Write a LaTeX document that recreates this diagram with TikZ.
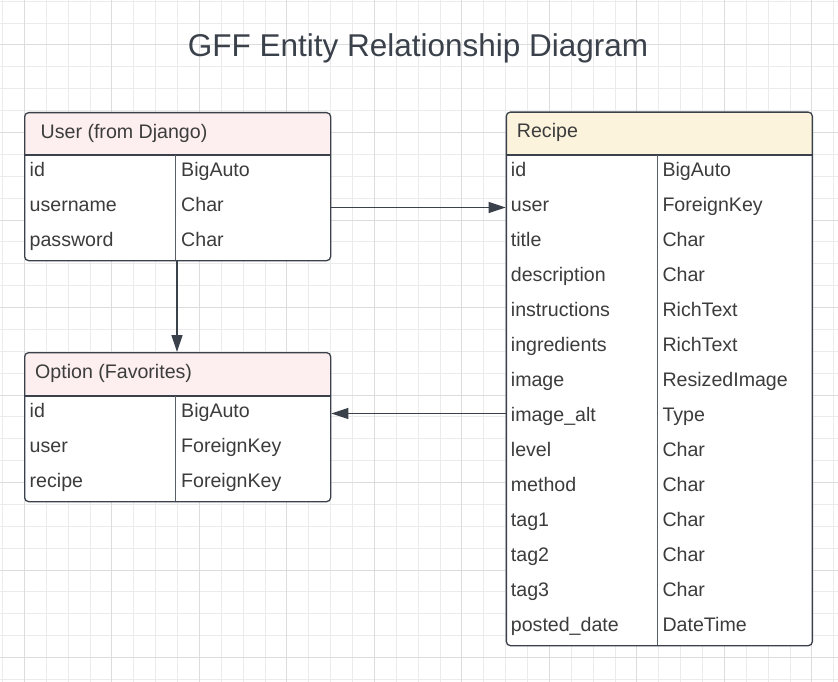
\documentclass[tikz,border=0pt]{standalone}
\usepackage{fontspec}
\setmainfont{Liberation Sans}
\usetikzlibrary{arrows.meta,calc}
\definecolor{ink}{HTML}{3A414A}
\definecolor{txt}{HTML}{3C3C3C}
\definecolor{pinkhdr}{HTML}{FDEFEF}
\definecolor{yelhdr}{HTML}{FCF3DC}
\definecolor{gridminor}{HTML}{EBEBEB}
\definecolor{gridmajor}{HTML}{DCDCDC}
\tikzset{
  tbl/.style={draw=ink, line width=1.3pt, fill=white, rounded corners=4pt,
    inner sep=0pt, anchor=north west},
  hdrfill/.style={path picture={\fill[#1] (path picture bounding box.north west)
      rectangle ([yshift=-43.5pt]path picture bounding box.north east);}},
  sepline/.style={draw=ink, line width=1.2pt},
  divline/.style={draw=ink!85, line width=1pt},
  cell/.style={inner sep=0pt, anchor=base west, text=txt,
    font=\fontsize{19.6}{23}\selectfont},
  titletext/.style={inner sep=0pt, anchor=base, text=ink,
    font=\fontsize{31.5}{36}\selectfont},
  arr/.style={draw=ink, line width=1.3pt, -{Triangle[length=17pt,width=11pt]}},
}
\begin{document}
\begin{tikzpicture}[x=1pt,y=-1pt]
\useasboundingbox (0,0) rectangle (838,682);
\fill[white] (0,0) rectangle (838,682);
% grid
\foreach \k in {0,...,38}{\draw[gridminor, line width=1pt] (2.5+21.875*\k,0) -- (2.5+21.875*\k,682);}
\foreach \k in {0,...,31}{\draw[gridminor, line width=1pt] (0,1.25+21.875*\k) -- (838,1.25+21.875*\k);}
\foreach \k in {1,5,...,37}{\draw[gridmajor, line width=1pt] (2.5+21.875*\k,0) -- (2.5+21.875*\k,682);}
\foreach \k in {2,6,...,30}{\draw[gridmajor, line width=1pt] (0,1.25+21.875*\k) -- (838,1.25+21.875*\k);}

% title
\node[titletext] (title) at (418,57) {GFF Entity Relationship Diagram};

% ---------- User table ----------
\node[tbl, hdrfill=pinkhdr, minimum width=306pt, minimum height=148pt] (user) at (24,112) {};
\draw[sepline] (24,155) -- (330,155);
\draw[divline] (175,155) -- (175,260);
\node[cell] (uhead) at (40.5,139) {User (from Django)};
\foreach \n/\t [count=\i] in {id/BigAuto, username/Char, password/Char}{
  \node[cell] (un\i) at (29.5,176.8+35*\i-35) {\n};
  \node[cell] (ut\i) at (181,176.8+35*\i-35) {\t};
  \coordinate (urow\i) at (177,172.5+35*\i-35);
}

% ---------- Option table ----------
\node[tbl, hdrfill=pinkhdr, minimum width=306pt, minimum height=149pt] (option) at (24,352) {};
\draw[sepline] (24,396) -- (330,396);
\draw[divline] (175,396) -- (175,501);
\node[cell] (ohead) at (35,378.5) {Option (Favorites)};
\foreach \n/\t [count=\i] in {id/BigAuto, user/ForeignKey, recipe/ForeignKey}{
  \node[cell] (on\i) at (29.5,417.8+35*\i-35) {\n};
  \node[cell] (ot\i) at (181,417.8+35*\i-35) {\t};
  \coordinate (orow\i) at (177,413.5+35*\i-35);
}

% ---------- Recipe table ----------
\node[tbl, hdrfill=yelhdr, minimum width=306pt, minimum height=533.5pt] (recipe) at (505.7,111.5) {};
\draw[sepline] (505.7,155) -- (811.7,155);
\draw[divline] (657,155) -- (657,645);
\node[cell] (rhead) at (516.7,137.5) {Recipe};
\foreach \n/\t [count=\i] in {id/BigAuto, user/ForeignKey, title/Char, description/Char,
  instructions/RichText, ingredients/RichText, image/ResizedImage, image\_alt/Type,
  level/Char, method/Char, tag1/Char, tag2/Char, tag3/Char, posted\_date/DateTime}{
  \node[cell] (rn\i) at (510.7,176.8+35*\i-35) {\n};
  \node[cell] (rt\i) at (662.3,176.8+35*\i-35) {\t};
  \coordinate (rrow\i) at (657,172.5+35*\i-35);
}

% ---------- connectors ----------
\draw[arr] (user.east |- urow2) -- (recipe.west |- urow2);
\draw[arr] (recipe.west |- orow1) -- (option.east |- orow1);
\draw[arr] (user.south -| urow1) -- (option.north -| urow1);
\end{tikzpicture}
\end{document}
